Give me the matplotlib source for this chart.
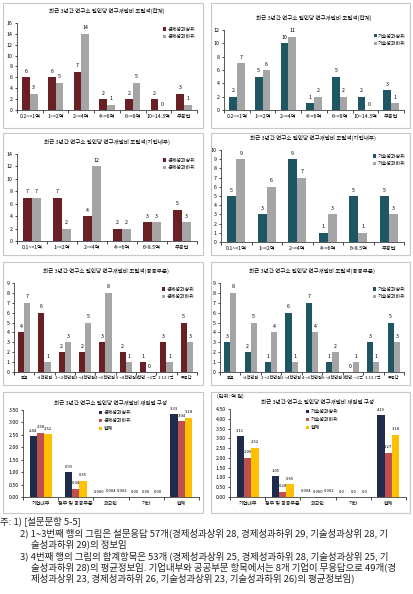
import matplotlib.pyplot as plt
from matplotlib.patches import Rectangle
import numpy as np

plt.rcParams['font.family'] = ['Noto Sans CJK KR', 'DejaVu Sans']

W, H = 414, 594

# ---- data ----
cat_total = ['0.2~<1억', '1~<2억', '2~<4억', '4~<6억', '6~<8억', '10~14.3억', '무응답']
cat_firm = ['0.1~<1억', '1~<2억', '2~<4억', '4~<6억', '6~8.5억', '무응답']
cat_public = ['없음', '<1천만원', '1~<2천만원', '2~<4천만원', '4~<6천만원',
              '6~<8천만원', '8천만~<1억', '1~13.7억', '무응답']
cat_source = ['기업내부', '정부 및 공공부문', '외국인', '기타', '합계']

econ_hi_total = [6, 6, 7, 2, 2, 2, 3]
econ_lo_total = [3, 5, 14, 1, 5, 0, 1]
tech_hi_total = [2, 5, 10, 1, 5, 2, 3]
tech_lo_total = [7, 6, 11, 2, 2, 0, 1]

econ_hi_firm = [7, 7, 4, 2, 3, 5]
econ_lo_firm = [7, 2, 12, 2, 3, 3]
tech_hi_firm = [5, 3, 9, 1, 5, 5]
tech_lo_firm = [9, 6, 7, 3, 1, 3]

econ_hi_public = [4, 6, 2, 2, 3, 2, 1, 3, 5]
econ_lo_public = [7, 1, 3, 5, 8, 1, 0, 1, 3]
tech_hi_public = [3, 2, 1, 6, 7, 1, 0, 3, 5]
tech_lo_public = [8, 5, 4, 1, 4, 2, 1, 1, 3]

econ_hi_src = [2.44, 0.99, 0.000, 0.00, 3.33]
econ_lo_src = [2.58, 0.34, 0.004, 0.00, 3.04]
econ_all_src = [2.52, 0.65, 0.002, 0.00, 3.18]
econ_src_dec = [2, 2, 3, 2, 2]
tech_hi_src = [3.11, 1.05, 0.004, 0.0, 4.19]
tech_lo_src = [2.00, 0.28, 0.000, 0.0, 2.27]
tech_all_src = [2.52, 0.65, 0.002, 0.0, 3.18]
tech_src_dec = [2, 2, 3, 1, 2]

ECON = '#6a1f24'
TECH = '#1f5663'
GRAY = '#a5a5a5'
NAVY = '#1f2b4a'
RED = '#c0504d'
GOLD = '#ffc000'

TITLE = '최근 3년간 연구소 일인당 연구개발비 조달액'

fig = plt.figure(figsize=(W / 100, H / 100), dpi=100)


def box(x0, y0, x1, y1):
    fig.patches.append(Rectangle((x0 / W, 1 - y1 / H), (x1 - x0) / W, (y1 - y0) / H,
                                 transform=fig.transFigure, fill=False,
                                 edgecolor='#c8c8c8', linewidth=0.8))


def axes(x0, ytop, x1, ybot):
    return fig.add_axes([x0 / W, 1 - ybot / H, (x1 - x0) / W, (ybot - ytop) / H])


def style(ax, n, ymax, ystep, yfmt='{:.0f}', xsize=3.6):
    for s in ['top', 'right']:
        ax.spines[s].set_visible(False)
    for s in ['left', 'bottom']:
        ax.spines[s].set_linewidth(0.6)
        ax.spines[s].set_color('#404040')
    ax.set_xlim(-0.5, n - 0.5)
    ax.set_ylim(0, ymax)
    ticks = np.arange(0, ymax + ystep / 2, ystep)
    ax.set_yticks(ticks)
    ax.set_yticklabels([yfmt.format(t) for t in ticks])
    ax.set_xticks(range(n))
    ax.set_xticks(np.arange(-0.5, n, 1), minor=True)
    ax.tick_params(axis='x', which='major', length=0, labelsize=xsize, pad=3)
    ax.tick_params(axis='x', which='minor', length=2, width=0.5, direction='out')
    ax.tick_params(axis='y', length=1.5, width=0.5, labelsize=3.8, pad=1.5)


def pair_chart(ax, cats, hi, lo, color, names, ymax, ystep, title, leg_x, xsize=3.8):
    n = len(cats)
    x = np.arange(n)
    w = 0.3
    b1 = ax.bar(x - w / 2, hi, w, color=color, label=names[0])
    b2 = ax.bar(x + w / 2, lo, w, color=GRAY, label=names[1])
    for bars in (b1, b2):
        for r in bars:
            ax.annotate(f'{r.get_height():.0f}', (r.get_x() + r.get_width() / 2, r.get_height()),
                        xytext=(0, 2.5), textcoords='offset points', ha='center', va='bottom',
                        fontsize=3.8)
    style(ax, n, ymax, ystep, xsize=xsize)
    ax.set_xticklabels(cats)
    ax.set_title(title, fontsize=4.0, pad=7)
    ax.legend(loc='upper left', bbox_to_anchor=(leg_x, 0.98), fontsize=3.6, frameon=False,
              handlelength=0.6, handleheight=0.6, handletextpad=0.3, labelspacing=0.5,
              borderaxespad=0)


def source_chart(ax, series, dec, names, ymax, title):
    n = len(cat_source)
    x = np.arange(n)
    w = 0.21
    colors = [NAVY, RED, GOLD]
    for i, (vals, c, nm) in enumerate(zip(series, colors, names)):
        bars = ax.bar(x + (i - 1) * w, vals, w, color=c, label=nm)
        for r, v, d in zip(bars, vals, dec):
            # near-zero groups: spread the labels a little so they stay readable
            dx = (i - 1) * 3 if v < 0.05 else 0
            ax.annotate(f'{v:.{d}f}', (r.get_x() + r.get_width() / 2, r.get_height()),
                        xytext=(dx, 2.5), textcoords='offset points', ha='center', va='bottom',
                        fontsize=3.0)
    style(ax, n, ymax, 0.5, '{:.2f}', xsize=3.6)
    ax.set_xticklabels(cat_source)
    ax.set_title(title, fontsize=4.0, pad=4)
    ax.legend(loc='upper left', bbox_to_anchor=(0.42, 1.02), fontsize=3.6, frameon=False,
              handlelength=0.6, handleheight=0.6, handletextpad=0.3, labelspacing=0.6,
              borderaxespad=0)


econ_names = ['경제성과상위', '경제성과하위']
tech_names = ['기술성과상위', '기술성과하위']

# row 1
box(3, 3, 203, 128)
box(211, 3, 410, 128)
pair_chart(axes(17, 23, 197, 110), cat_total, econ_hi_total, econ_lo_total, ECON,
           econ_names, 16, 2, TITLE + '(합계)', 0.8)
pair_chart(axes(224, 30, 404, 110), cat_total, tech_hi_total, tech_lo_total, TECH,
           tech_names, 12, 2, TITLE + '(합계)', 0.82)

# row 2
box(3, 133, 203, 255)
box(211, 133, 410, 255)
pair_chart(axes(17, 154, 197, 241), cat_firm, econ_hi_firm, econ_lo_firm, ECON,
           econ_names, 14, 2, TITLE + '(기업내부)', 0.8)
pair_chart(axes(221, 150, 404, 242), cat_firm, tech_hi_firm, tech_lo_firm, TECH,
           tech_names, 10, 1, TITLE + '(기업내부)', 0.82)

# row 3
box(3, 262, 203, 385)
box(211, 262, 410, 385)
pair_chart(axes(14, 283, 197, 372), cat_public, econ_hi_public, econ_lo_public, ECON,
           econ_names, 9, 1, TITLE + '(공공부문)', 0.8, xsize=3.0)
pair_chart(axes(220, 283, 404, 372), cat_public, tech_hi_public, tech_lo_public, TECH,
           tech_names, 9, 1, TITLE + '(공공부문)', 0.82, xsize=3.0)

# row 4
box(3, 392, 203, 513)
box(211, 392, 410, 513)
source_chart(axes(23, 410, 199, 497), [econ_hi_src, econ_lo_src, econ_all_src], econ_src_dec,
             ['경제성과상위', '경제성과하위', '합계'], 3.5, '최근 3년간 연구소 일인당 연구개발비 재원별 구성')
ax_r = axes(230, 409, 406, 497)
source_chart(ax_r, [tech_hi_src, tech_lo_src, tech_all_src], tech_src_dec,
             ['기술성과상위', '기술성과하위', '합계'], 4.5, '최근 3년간 연구소 일인당 연구개발비 재원별 구성')
fig.text(217 / W, 1 - 396 / H, '(단위: 억 원)', fontsize=3.8, va='center')

# notes
notes = [
    (0, 521, '주: 1) [설문문항 5-5]'),
    (20, 533, '2) 1~3번째 행의 그림은 설문응답 57개(경제성과상위 28, 경제성과하위 29, 기술성과상위 28, 기'),
    (31, 544, '술성과하위 29)의 정보임'),
    (20, 556, '3) 4번째 행의 그림의 합계항목은 53개 (경제성과상위 25, 경제성과하위 28, 기술성과상위 25, 기'),
    (31, 567, '술성과하위 28)의 평균정보임. 기업내부와 공공부문 항목에서는 8개 기업이 무응답으로 49개(경'),
    (31, 578, '제성과상위 23, 경제성과하위 26, 기술성과상위 23, 기술성과하위 26)의 평균정보임)'),
]
for x, y, t in notes:
    fig.text(x / W, 1 - y / H, t, fontsize=6.8, va='center', color='#222222')

fig.savefig('out.png', dpi=100)
